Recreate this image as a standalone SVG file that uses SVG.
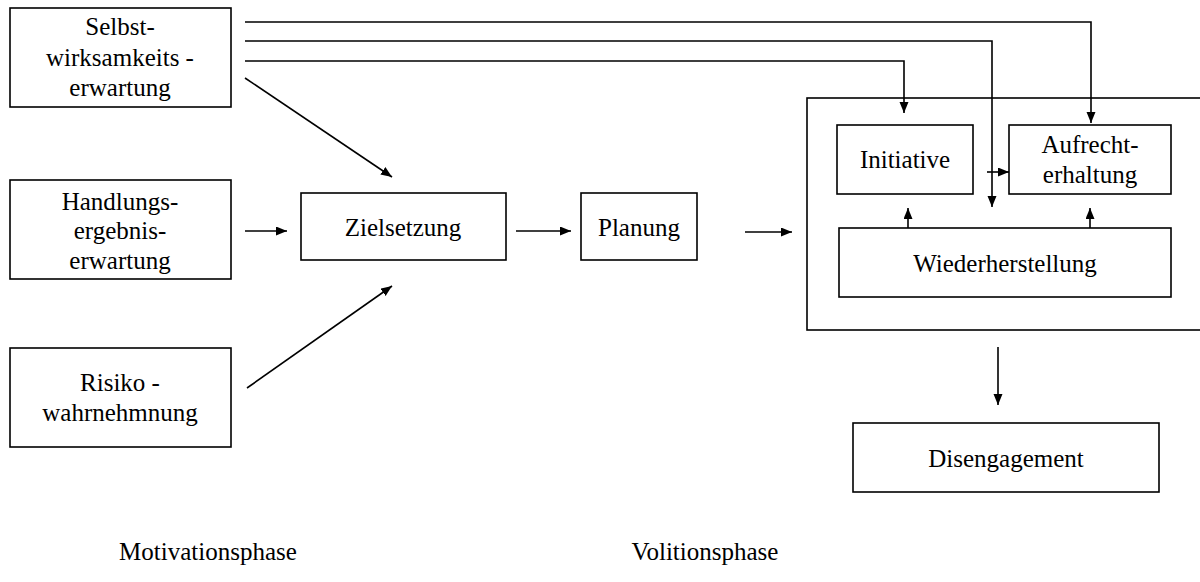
<svg xmlns="http://www.w3.org/2000/svg" width="1200" height="582" viewBox="0 0 1200 582" font-family="Times New Roman">
<defs>
<marker id="ah" markerUnits="userSpaceOnUse" markerWidth="12" markerHeight="10" refX="11" refY="4.5" orient="auto">
<path d="M0,0 L11,4.5 L0,9 z" fill="#000"/>
</marker>
</defs>
<rect width="1200" height="582" fill="#fff"/>
<g fill="#fff" stroke="#000" stroke-width="1.6">
<g id="volition-frame"><rect x="807" y="98" width="400" height="232"/></g>
<g id="selbst"><rect x="10" y="8" width="221" height="99"/></g>
<g id="handlung"><rect x="10" y="180" width="221" height="99"/></g>
<g id="risiko"><rect x="10" y="348" width="221" height="99"/></g>
<g id="zielsetzung"><rect x="301" y="193" width="205" height="67"/></g>
<g id="planung"><rect x="581" y="193" width="116" height="67"/></g>
<g id="initiative"><rect x="837" y="125" width="136" height="69"/></g>
<g id="aufrecht"><rect x="1009" y="125" width="162" height="69"/></g>
<g id="wiederherstellung"><rect x="839" y="228" width="332" height="69"/></g>
<g id="disengagement"><rect x="853" y="423" width="306" height="69"/></g>
</g>
<g id="labels">
<text x="120" y="35" font-family="Times New Roman" font-size="25" text-anchor="middle">Selbst-</text>
<text x="120" y="66" font-family="Times New Roman" font-size="25" text-anchor="middle">wirksamkeits -</text>
<text x="120" y="96" font-family="Times New Roman" font-size="25" text-anchor="middle">erwartung</text>
<text x="120" y="210" font-family="Times New Roman" font-size="25" text-anchor="middle">Handlungs-</text>
<text x="120" y="239" font-family="Times New Roman" font-size="25" text-anchor="middle">ergebnis-</text>
<text x="120" y="269" font-family="Times New Roman" font-size="25" text-anchor="middle">erwartung</text>
<text x="120" y="391" font-family="Times New Roman" font-size="25" text-anchor="middle">Risiko -</text>
<text x="120" y="421" font-family="Times New Roman" font-size="25" text-anchor="middle">wahrnehmnung</text>
<text x="403" y="236" font-family="Times New Roman" font-size="25" text-anchor="middle">Zielsetzung</text>
<text x="639" y="236" font-family="Times New Roman" font-size="25" text-anchor="middle">Planung</text>
<text x="905" y="168" font-family="Times New Roman" font-size="25" text-anchor="middle">Initiative</text>
<text x="1090" y="153" font-family="Times New Roman" font-size="25" text-anchor="middle">Aufrecht-</text>
<text x="1090" y="183" font-family="Times New Roman" font-size="25" text-anchor="middle">erhaltung</text>
<text x="1005" y="272" font-family="Times New Roman" font-size="25" text-anchor="middle">Wiederherstellung</text>
<text x="1006" y="467" font-family="Times New Roman" font-size="25" text-anchor="middle">Disengagement</text>
<text x="208" y="560" font-family="Times New Roman" font-size="25" text-anchor="middle">Motivationsphase</text>
<text x="705" y="560" font-family="Times New Roman" font-size="25" text-anchor="middle">Volitionsphase</text>
</g>
<g id="connectors" fill="none" stroke="#000" stroke-width="1.6">
<path d="M245,22 H1091 V123" marker-end="url(#ah)"/>
<path d="M245,41 H992 V207" marker-end="url(#ah)"/>
<path d="M245,61 H904 V113" marker-end="url(#ah)"/>
<path d="M245,78 L392,177" marker-end="url(#ah)"/>
<path d="M245,231 H287" marker-end="url(#ah)"/>
<path d="M247,388 L392,286" marker-end="url(#ah)"/>
<path d="M516,231 H571" marker-end="url(#ah)"/>
<path d="M745,232 H792" marker-end="url(#ah)"/>
<path d="M987,172 H1009" marker-end="url(#ah)"/>
<path d="M908,228 V208" marker-end="url(#ah)"/>
<path d="M1090,228 V208" marker-end="url(#ah)"/>
<path d="M998,347 V405" marker-end="url(#ah)"/>
</g>
</svg>
